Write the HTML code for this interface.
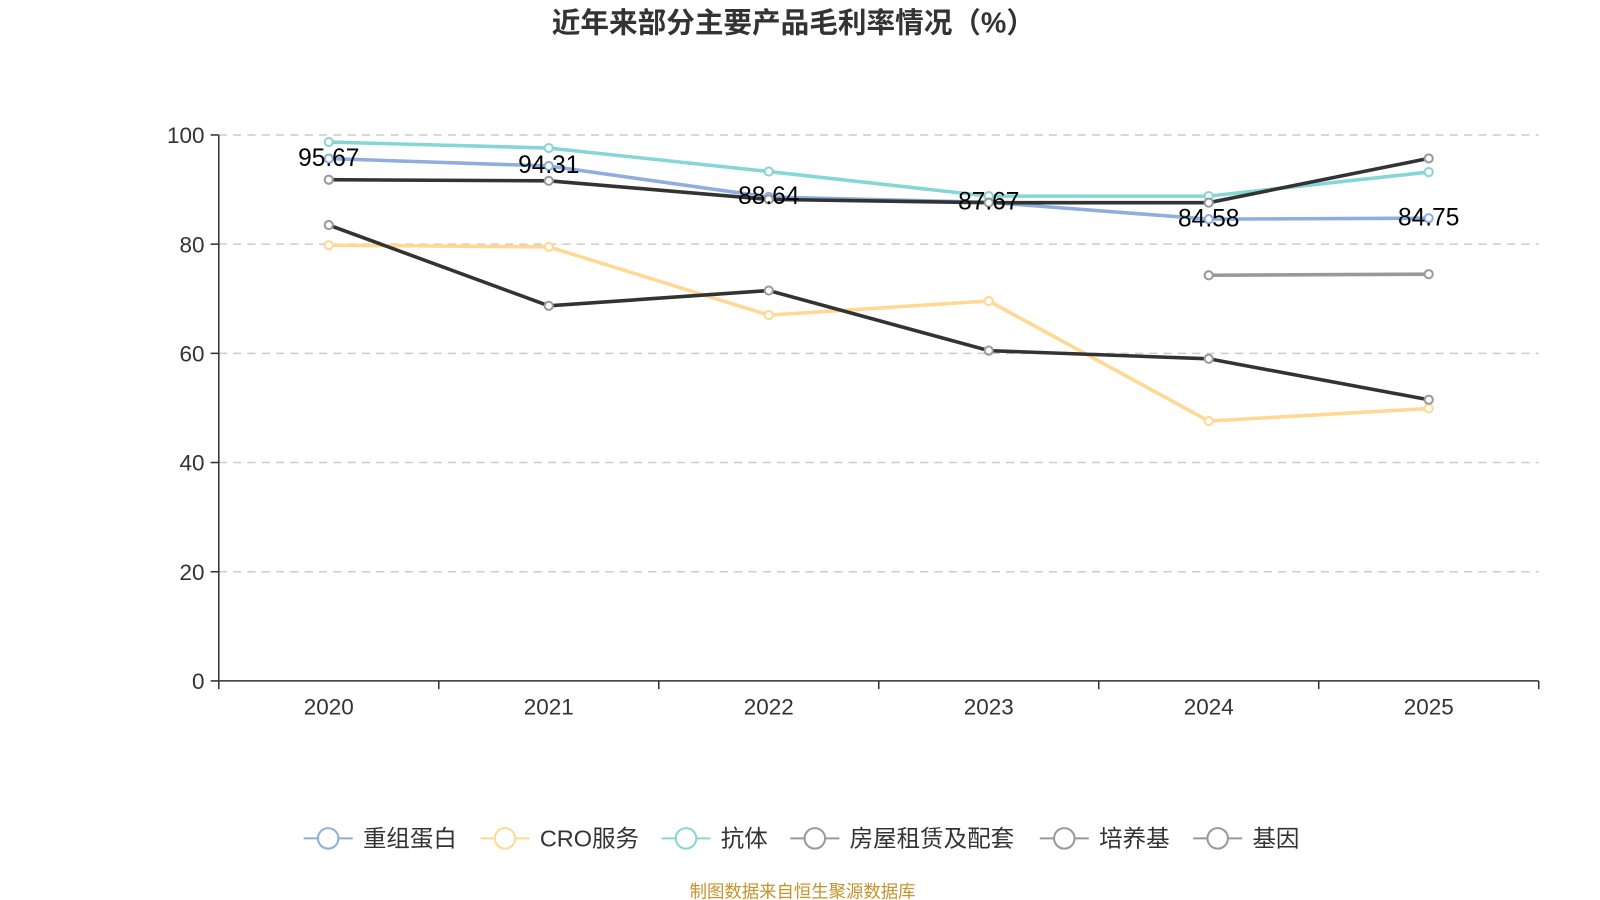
<!DOCTYPE html>
<html><head><meta charset="utf-8"><style>
body{margin:0;background:#fff;}
svg{display:block;font-family:"Liberation Sans","Noto Sans CJK SC",sans-serif;}
</style></head><body>
<svg id="chart" width="1600" height="900">
<g transform="scale(1.0224)">
<text x="776" y="32" text-anchor="middle" font-size="28" font-weight="bold" fill="#333">近年来部分主要产品毛利率情况（%）</text>
<g id="grid"></g><g id="axes"></g><g id="series"></g><g id="labels"></g><g id="legend"></g>
<text x="785" y="878" text-anchor="middle" font-size="17" fill="#c8922a">制图数据来自恒生聚源数据库</text>
</g>
</svg>
<script>
const categories=["2020","2021","2022","2023","2024","2025"];
const yTicks=[0,20,40,60,80,100];
const seriesNames=["重组蛋白","CRO服务","抗体","房屋租赁及配套","培养基","基因"];
const s1=[95.67,94.31,88.64,87.67,84.58,84.75];
const s2=[79.8,79.5,67.0,69.6,47.6,49.9];
const s3=[98.7,97.6,93.3,88.8,88.8,93.2];
const s4=[91.8,91.6,88.2,87.6,87.6,95.7];
const s5=[83.5,68.7,71.5,60.5,59.0,51.5];
const s6=[null,null,null,null,74.3,74.5];
const NS="http://www.w3.org/2000/svg";
function mk(t,a,p){const e=document.createElementNS(NS,t);for(const k in a)e.setAttribute(k,a[k]);p.appendChild(e);return e;}
const L=214,R=1505,T=132,B=666;
const step=(R-L)/categories.length;
function X(i){return L+step*(i+0.5);}
function Y(v){return B-(v/100)*(B-T);}
const grid=document.getElementById('grid'),axes=document.getElementById('axes');
yTicks.forEach(v=>{
 if(v>0){const g=mk('line',{x1:L,x2:R,y1:Y(v),y2:Y(v),stroke:'#ccc','stroke-dasharray':'8,6','stroke-width':1.5},grid);
 
 }
 const tk=mk('line',{x1:L-8,x2:L,y1:Y(v),y2:Y(v),stroke:'#333','stroke-width':1.5},axes);
 
 
 const t=mk('text',{x:L-14,y:Y(v)+8,'text-anchor':'end','font-size':22,fill:'#333'},axes);t.textContent=v;
 
 
});
const ya=mk('line',{x1:L,x2:L,y1:T,y2:B,stroke:'#333','stroke-width':1.5},axes);


const xa=mk('line',{x1:L,x2:R,y1:B,y2:B,stroke:'#333','stroke-width':1.5},axes);


for(let i=0;i<=categories.length;i++){
 const tk=mk('line',{x1:L+step*i,x2:L+step*i,y1:B,y2:B+8,stroke:'#333','stroke-width':1.5},axes);
 
 
}
categories.forEach((c,i)=>{const t=mk('text',{x:X(i),y:B+33,'text-anchor':'middle','font-size':22,fill:'#333'},axes);t.textContent=c;
 
 });
const all=[s1,s2,s3,s4,s5,s6];
const lineCols=['#8eaee0','#ffd894','#86d6d6','#333','#333','#999'];
const mkCols=['#8eaee0','#ffd894','#86d6d6','#999','#999','#999'];
const order=[1,0,2,3,4,5];
const sg=document.getElementById('series');
order.forEach(k=>{
 const d=all[k];let path='';let pen=false;
 d.forEach((v,i)=>{if(v==null){pen=false;return;}path+=(pen?'L':'M')+X(i)+','+Y(v);pen=true;});
 const p=mk('path',{d:path,fill:'none',stroke:lineCols[k],'stroke-width':3.5},sg);
 
 
 d.forEach((v,i)=>{if(v==null)return;const c=mk('circle',{cx:X(i),cy:Y(v),r:4,fill:'#fff',stroke:mkCols[k],'stroke-width':2},sg);
 
 });
});
const lg=document.getElementById('labels');
s1.forEach((v,i)=>{const t=mk('text',{x:X(i),y:Y(v)+7,'text-anchor':'middle','font-size':24,fill:'#000'},lg);t.textContent=v.toFixed(2);
 
 });
const leg=document.getElementById('legend');
const legX=[297,470,647,773,1017,1167];
seriesNames.forEach((n,k)=>{
 const g=mk('g',{},leg);
 
 
 mk('line',{x1:legX[k],x2:legX[k]+48,y1:820,y2:820,stroke:mkCols[k],'stroke-width':2},g);
 mk('circle',{cx:legX[k]+24,cy:820,r:10,fill:'#fff',stroke:mkCols[k],'stroke-width':2},g);
 const t=mk('text',{x:legX[k]+58,y:828,'font-size':23,fill:'#333'},g);t.textContent=n;
});
</script>
</body></html>
